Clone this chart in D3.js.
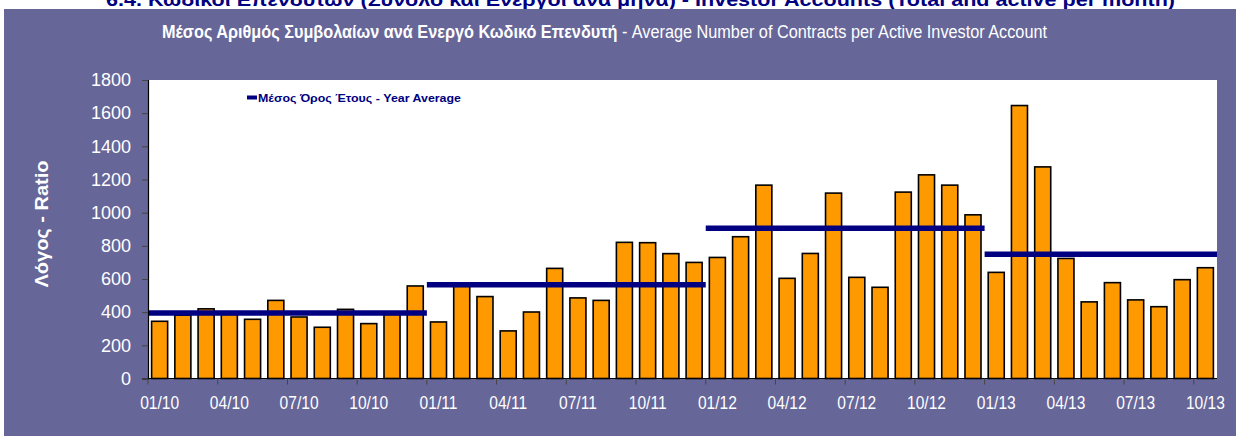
<!DOCTYPE html>
<html>
<head>
<meta charset="utf-8">
<script src="https://cdn.jsdelivr.net/npm/d3@7"></script>
<style>
  html, body { margin: 0; padding: 0; background: #fff; }
  #chart { width: 1236px; height: 436px; }
  text { font-family: "Liberation Sans", Arial, sans-serif; }
</style>
</head>
<body>
<div id="chart"></div>
<script>
const months = [
  "01/10","02/10","03/10","04/10","05/10","06/10","07/10","08/10","09/10","10/10","11/10","12/10",
  "01/11","02/11","03/11","04/11","05/11","06/11","07/11","08/11","09/11","10/11","11/11","12/11",
  "01/12","02/12","03/12","04/12","05/12","06/12","07/12","08/12","09/12","10/12","11/12","12/12",
  "01/13","02/13","03/13","04/13","05/13","06/13","07/13","08/13","09/13","10/13"
];
const ratio = [
  345, 382, 420, 386, 357, 471, 371, 309, 417, 331, 386, 558,
  341, 556, 494, 287, 401, 664, 486, 471, 821, 819, 753, 700,
  730, 855, 1166, 604, 754, 1118, 610, 550, 1124, 1228, 1166, 987,
  640, 1646, 1276, 724, 462, 578, 474, 433, 596, 668
];
const years = ["2010", "2011", "2012", "2013"];
const yearStart = [0, 12, 24, 36];
const yearEnd = [12, 24, 36, 46];
const yearAvg = [395, 566, 906, 750];
const xTickLabels = ["01/10","04/10","07/10","10/10","01/11","04/11","07/11","10/11",
  "01/12","04/12","07/12","10/12","01/13","04/13","07/13","10/13"];
const yTicks = [0, 200, 400, 600, 800, 1000, 1200, 1400, 1600, 1800];

const W = 1236, H = 436;
const plot = { left: 148, right: 1217, top: 80, bottom: 378.5 };
const navy = "#000080", purple = "#666699", orange = "#FF9900";

const svg = d3.select("#chart").append("svg")
  .attr("width", W)
  .attr("height", H);

// page title, cut off by the panel
svg.append("text")
  .attr("x", 106).attr("y", 5.5)
  .attr("textLength", 1069).attr("lengthAdjust", "spacingAndGlyphs")
  .attr("font-size", 19).attr("font-weight", "bold")
  .attr("fill", navy)
  .text("6.4. Κωδικοί Επενδυτών (Σύνολο και Ενεργοί ανά μήνα) - Investor Accounts (Total and active per month)");

svg.append("rect")
  .attr("x", 4).attr("y", 9)
  .attr("width", W - 4).attr("height", H - 9)
  .attr("fill", purple);

const sub = svg.append("text")
  .attr("x", 162).attr("y", 37.5)
  .attr("textLength", 885).attr("lengthAdjust", "spacingAndGlyphs")
  .attr("font-size", 17.5)
  .attr("fill", "#fff");
sub.append("tspan").attr("font-weight", "bold").text("Μέσος Αριθμός Συμβολαίων ανά Ενεργό Κωδικό Επενδυτή");
sub.append("tspan").text(" - Average Number of Contracts per Active Investor Account");

svg.append("rect")
  .attr("x", plot.left).attr("y", plot.top)
  .attr("width", plot.right - plot.left).attr("height", plot.bottom - plot.top)
  .attr("fill", "#fff");

const x = d3.scaleBand()
  .domain(months)
  .range([plot.left, plot.right])
  .paddingInner(0.31)
  .paddingOuter(0.155);
const step = x.step();
const edge = i => plot.left + i * step;

const y = d3.scaleLinear()
  .domain([0, 1800])
  .range([plot.bottom, plot.top]);

svg.selectAll(".bar")
  .data(ratio)
  .enter()
  .append("rect")
  .attr("class", "bar")
  .attr("x", (d, i) => x(months[i]))
  .attr("y", d => y(d))
  .attr("width", x.bandwidth())
  .attr("height", d => y(0) - y(d))
  .attr("fill", orange)
  .attr("stroke", "#000")
  .attr("stroke-width", 1.6);

svg.selectAll(".avg")
  .data(years)
  .enter()
  .append("line")
  .attr("class", "avg")
  .attr("x1", (d, i) => edge(yearStart[i]))
  .attr("x2", (d, i) => edge(yearEnd[i]))
  .attr("y1", (d, i) => y(yearAvg[i]))
  .attr("y2", (d, i) => y(yearAvg[i]))
  .attr("stroke", navy)
  .attr("stroke-width", 5.5);

// y axis
const yAxis = d3.axisLeft(y).tickValues(yTicks).tickSize(6).tickFormat(d3.format("d"));
const yAxisG = svg.append("g")
  .attr("transform", `translate(${plot.left},0)`)
  .call(yAxis);
yAxisG.select(".domain").attr("stroke", "#000").attr("stroke-width", 1.2);
yAxisG.selectAll(".tick line").attr("stroke", "#444");
yAxisG.selectAll(".tick text")
  .attr("x", -17)
  .attr("fill", "#fff")
  .attr("font-size", 18)
  .attr("font-family", "Liberation Sans, Arial, sans-serif");

// x axis: ticks every quarter on the category edges, labels on the first month
const xAxisG = svg.append("g");
xAxisG.append("line")
  .attr("x1", plot.left).attr("x2", plot.right)
  .attr("y1", plot.bottom).attr("y2", plot.bottom)
  .attr("stroke", "#000").attr("stroke-width", 1.2);
xAxisG.selectAll(".xtick")
  .data(xTickLabels)
  .enter()
  .append("line")
  .attr("class", "xtick")
  .attr("x1", d => edge(months.indexOf(d)))
  .attr("x2", d => edge(months.indexOf(d)))
  .attr("y1", plot.bottom).attr("y2", plot.bottom + 6)
  .attr("stroke", "#444");
xAxisG.selectAll(".xlabel")
  .data(xTickLabels)
  .enter()
  .append("text")
  .attr("class", "xlabel")
  .attr("transform", d => `translate(${x(d) + x.bandwidth() / 2},408.5) scale(0.82,1)`)
  .attr("text-anchor", "middle")
  .attr("font-size", 19)
  .attr("fill", "#fff")
  .text(d => d);

svg.append("text")
  .attr("transform", "translate(47.5,224) rotate(-90)")
  .attr("text-anchor", "middle")
  .attr("textLength", 127).attr("lengthAdjust", "spacingAndGlyphs")
  .attr("font-size", 18).attr("font-weight", "bold")
  .attr("fill", "#fff")
  .text("Λόγος - Ratio");

// legend
svg.append("line")
  .attr("x1", 247).attr("x2", 257)
  .attr("y1", 97.5).attr("y2", 97.5)
  .attr("stroke", navy).attr("stroke-width", 4);
svg.append("text")
  .attr("x", 258).attr("y", 101.5)
  .attr("textLength", 203).attr("lengthAdjust", "spacingAndGlyphs")
  .attr("font-size", 11.5).attr("font-weight", "bold")
  .attr("fill", navy)
  .text("Μέσος Όρος Έτους - Year Average");
</script>
</body>
</html>
